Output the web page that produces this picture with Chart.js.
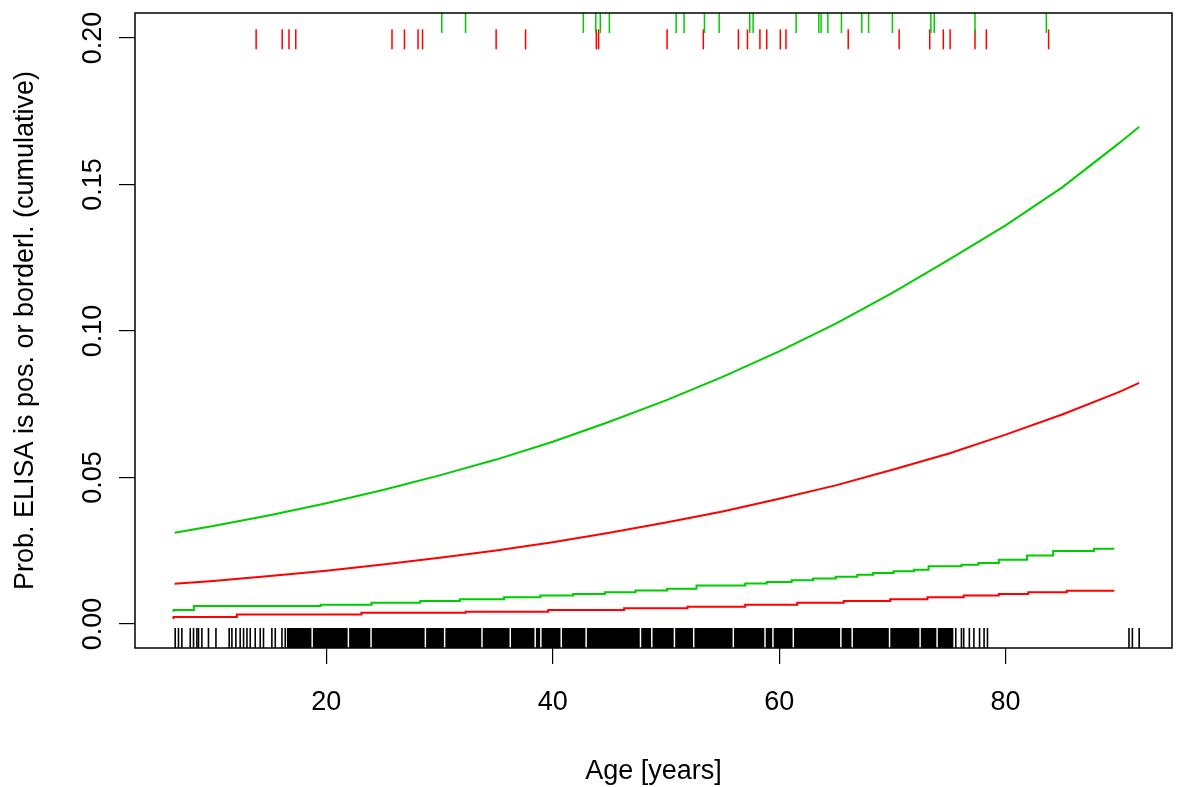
<!DOCTYPE html>
<html>
<head>
<meta charset="utf-8">
<script src="https://cdn.jsdelivr.net/npm/chart.js@4"></script>
<style>
html, body { margin: 0; padding: 0; background: #fff; }
</style>
</head>
<body>
<canvas id="ageChart" width="1180" height="787"></canvas>
<script>
// upper curves (smooth), ages in years
const ageUpper = [6.6, 10, 15, 20, 25, 30, 35, 40, 45, 50, 55, 60, 65, 70, 75, 80, 85, 90, 91.8];
const greenUpper = [0.0311, 0.0334, 0.0371, 0.0412, 0.0457, 0.0507, 0.0561, 0.0622, 0.0690, 0.0763,
    0.0843, 0.0930, 0.1025, 0.1130, 0.1243, 0.1360, 0.1490, 0.1640, 0.1697];
const redUpper = [0.0137, 0.0147, 0.0164, 0.0182, 0.0203, 0.0226, 0.0251, 0.0279, 0.0311, 0.0346,
    0.0384, 0.0427, 0.0473, 0.0526, 0.0582, 0.0646, 0.0715, 0.0791, 0.0823];

// lower curves (stepped)
const ageGreenLower = [6.5, 8.3, 19.5, 24.0, 28.3, 31.8, 35.7, 38.9, 41.8, 44.6, 47.3, 50.1, 52.7, 57.0,
    58.9, 61.1, 63.0, 65.0, 66.9, 68.3, 70.1, 71.9, 73.2, 76.1, 77.6, 79.4, 81.9, 84.2, 87.8, 89.6];
const greenLower = [0.0042, 0.0048, 0.0061, 0.0066, 0.0072, 0.0078, 0.0084, 0.0091, 0.0097, 0.0102,
    0.0108, 0.0114, 0.0120, 0.0131, 0.0138, 0.0143, 0.0149, 0.0155, 0.0161, 0.0168, 0.0174, 0.0180,
    0.0185, 0.0197, 0.0202, 0.0208, 0.0219, 0.0234, 0.0249, 0.0257];
const ageRedLower = [6.5, 12.1, 23.1, 32.3, 39.6, 46.3, 51.9, 57.0, 61.6, 65.7, 69.8, 73.1, 76.3, 79.4,
    82.0, 85.4, 87.8, 89.6];
const redLower = [0.0017, 0.0024, 0.0032, 0.0038, 0.0042, 0.0048, 0.0054, 0.0059, 0.0066, 0.0072,
    0.0078, 0.0084, 0.0091, 0.0097, 0.0102, 0.0108, 0.0113, 0.0113];

// rug marks at the top
const rugRed = [13.8, 16.1, 16.7, 17.3, 25.8, 26.9, 28.1, 28.5, 35.0, 37.6, 43.85, 44.05, 50.1, 53.3,
    56.4, 57.2, 58.3, 58.9, 60.1, 60.6, 66.1, 70.6, 73.3, 74.5, 75.1, 77.3, 78.3, 83.8];
const rugGreen = [30.2, 32.3, 42.7, 43.8, 44.2, 45.0, 50.9, 51.6, 53.4, 54.7, 57.4, 57.7, 61.5, 63.5,
    63.7, 64.3, 65.5, 67.3, 67.9, 70.0, 73.4, 73.7, 77.3, 83.6];

// rug of all ages at the bottom: isolated ages, then the dense block
const rugSparse = [
    6.65, 6.94, 7.24, 7.98, 8.27, 8.57, 8.71, 9.01, 9.59, 10.25, 11.42, 11.66, 12.01, 12.39, 12.69,
    12.99, 13.28, 13.72, 14.16, 14.45, 15.19, 15.49, 16.08, 16.37,
    75.6, 76.1, 76.3, 76.8, 77.2, 77.7, 78.1, 78.4, 90.9, 91.2, 91.8
];
const rugDense = [
    16.7, 17.0, 17.2, 17.5, 17.7, 18.0, 18.2, 18.5, 19.0, 19.2, 19.5, 19.7, 20.0, 20.2, 20.5, 20.7,
    21.0, 21.2, 21.5, 21.7, 22.2, 22.5, 22.7, 23.0, 23.2, 23.5, 23.7, 24.2, 24.5, 24.7,
    25.0, 25.2, 25.5, 25.7, 26.0, 26.2, 26.5, 26.7, 27.0, 27.2, 27.5, 27.7, 28.0, 28.2, 28.5,
    29.0, 29.2, 29.5, 29.7, 30.0, 30.2, 30.7, 31.0, 31.2, 31.5, 31.7, 32.0, 32.2, 32.5, 32.7,
    33.0, 33.2, 33.5, 34.0, 34.2, 34.5, 34.7, 35.0, 35.2, 35.5, 35.7, 36.0, 36.5, 36.7,
    37.0, 37.2, 37.5, 37.7, 38.0, 38.2, 38.7, 39.2, 39.5, 39.7, 40.0, 40.2, 40.5,
    41.0, 41.2, 41.5, 41.7, 42.0, 42.2, 42.5, 42.7, 43.2, 43.5, 43.7, 44.0, 44.2, 44.5, 44.7,
    45.0, 45.2, 45.5, 45.7, 46.0, 46.2, 46.5, 46.7, 47.0, 47.2, 47.5, 48.0, 48.2, 48.5,
    49.0, 49.2, 49.5, 49.7, 50.0, 50.2, 50.5, 51.0, 51.2, 51.5, 51.7, 52.0, 52.2, 52.7,
    53.0, 53.2, 53.5, 53.7, 54.0, 54.2, 54.5, 54.7, 55.0, 55.2, 55.5, 55.7, 56.2, 56.5, 56.7,
    57.0, 57.2, 57.5, 57.7, 58.0, 58.2, 58.5, 59.0, 59.2, 59.7, 60.0, 60.2, 60.5, 60.7,
    61.0, 61.5, 61.7, 62.0, 62.2, 62.5, 62.7, 63.0, 63.2, 63.5, 63.7, 64.0, 64.2, 64.5, 64.7,
    65.0, 65.2, 65.7, 66.0, 66.2, 66.7, 67.0, 67.2, 67.5, 67.7, 68.0, 68.2, 68.5, 68.7,
    69.0, 69.2, 69.5, 70.0, 70.2, 70.5, 70.7, 71.0, 71.2, 71.5, 71.7, 72.0, 72.2, 72.7,
    73.0, 73.2, 73.5, 73.7, 74.2, 74.5, 74.7, 75.0, 75.2
];

const xTicks = [20, 40, 60, 80];
const yTicks = [0, 0.05, 0.10, 0.15, 0.20];
const yTickLabels = ['0.00', '0.05', '0.10', '0.15', '0.20'];

const GREEN = 'rgb(0,205,0)';
const RED = 'rgb(255,0,0)';
const FONT = '"Liberation Sans", Arial, Helvetica, sans-serif';

function pares(xs, ys) {
    return xs.map((x, i) => ({x: x, y: ys[i]}));
}

function rug(xs, yValue) {
    return xs.map(x => ({x: x, y: yValue}));
}

function curva(xs, ys, cor, stepped) {
    return {
        data: pares(xs, ys),
        showLine: true,
        borderColor: cor,
        borderWidth: 2,
        pointRadius: 0,
        stepped: stepped ? 'after' : false,
        tension: 0
    };
}

function marcas(xs, yValue, cor, largura) {
    return {
        data: rug(xs, yValue),
        showLine: false,
        pointStyle: 'line',
        rotation: 90,
        pointRadius: 10,
        borderColor: cor,
        backgroundColor: cor,
        pointBorderWidth: largura,
        borderWidth: largura
    };
}

// box around the plot and rotated y tick labels (R style)
const moldura = {
    id: 'moldura',
    afterDraw(chart) {
        const {ctx, chartArea: a, scales: {y}} = chart;
        ctx.save();
        ctx.strokeStyle = '#000';
        ctx.lineWidth = 1.5;
        ctx.strokeRect(a.left, a.top, a.right - a.left, a.bottom - a.top);
        ctx.font = '27px ' + FONT;
        ctx.fillStyle = '#000';
        ctx.textAlign = 'center';
        ctx.textBaseline = 'alphabetic';
        yTicks.forEach((v, i) => {
            ctx.save();
            ctx.translate(101, y.getPixelForValue(v));
            ctx.rotate(-Math.PI / 2);
            ctx.fillText(yTickLabels[i], 0, 0);
            ctx.restore();
        });
        ctx.restore();
    }
};

function renderizarGrafico() {
    const ctx = document.getElementById('ageChart').getContext('2d');
    Chart.defaults.font.family = FONT;
    Chart.defaults.color = '#000';

    window.graficoIdade = new Chart(ctx, {
        type: 'scatter',
        data: {
            datasets: [
                curva(ageUpper, greenUpper, GREEN, false),
                curva(ageUpper, redUpper, RED, false),
                curva(ageGreenLower, greenLower, GREEN, true),
                curva(ageRedLower, redLower, RED, true),
                marcas(rugGreen, 0.2051, GREEN, 1.5),
                marcas(rugRed, 0.1995, RED, 1.5),
                marcas(rugSparse, -0.0048, '#000', 1.6),
                marcas(rugDense, -0.0048, '#000', 4.2)
            ]
        },
        options: {
            responsive: false,
            animation: false,
            events: [],
            layout: {autoPadding: false, padding: {top: 13, right: 8, left: 0, bottom: 0}},
            plugins: {legend: {display: false}, tooltip: {enabled: false}},
            scales: {
                x: {
                    type: 'linear',
                    min: 3.1,
                    max: 94.7,
                    afterBuildTicks: s => { s.ticks = xTicks.map(v => ({value: v})); },
                    afterFit: s => { s.height = 139; s.paddingLeft = 0; s.paddingRight = 0; },
                    border: {display: false},
                    grid: {display: true, drawOnChartArea: false, drawTicks: true, tickLength: 16, color: '#000', lineWidth: 1.2},
                    ticks: {font: {size: 27}, padding: 22, maxRotation: 0, color: '#000'},
                    title: {display: true, text: 'Age [years]', font: {size: 27, lineHeight: 1}, padding: {top: 0, bottom: 1.5}, color: '#000'}
                },
                y: {
                    type: 'linear',
                    min: -0.0082,
                    max: 0.2085,
                    afterBuildTicks: s => { s.ticks = yTicks.map(v => ({value: v})); },
                    afterFit: s => { s.width = 135; },
                    border: {display: false},
                    grid: {display: true, drawOnChartArea: false, drawTicks: true, tickLength: 16, color: '#000', lineWidth: 1.2},
                    ticks: {display: false},
                    title: {display: true, text: 'Prob. ELISA is pos. or borderl. (cumulative)', font: {size: 27, lineHeight: 1}, padding: {top: 12, bottom: 0}, color: '#000'}
                }
            }
        },
        plugins: [moldura]
    });
}

renderizarGrafico();
</script>
</body>
</html>
